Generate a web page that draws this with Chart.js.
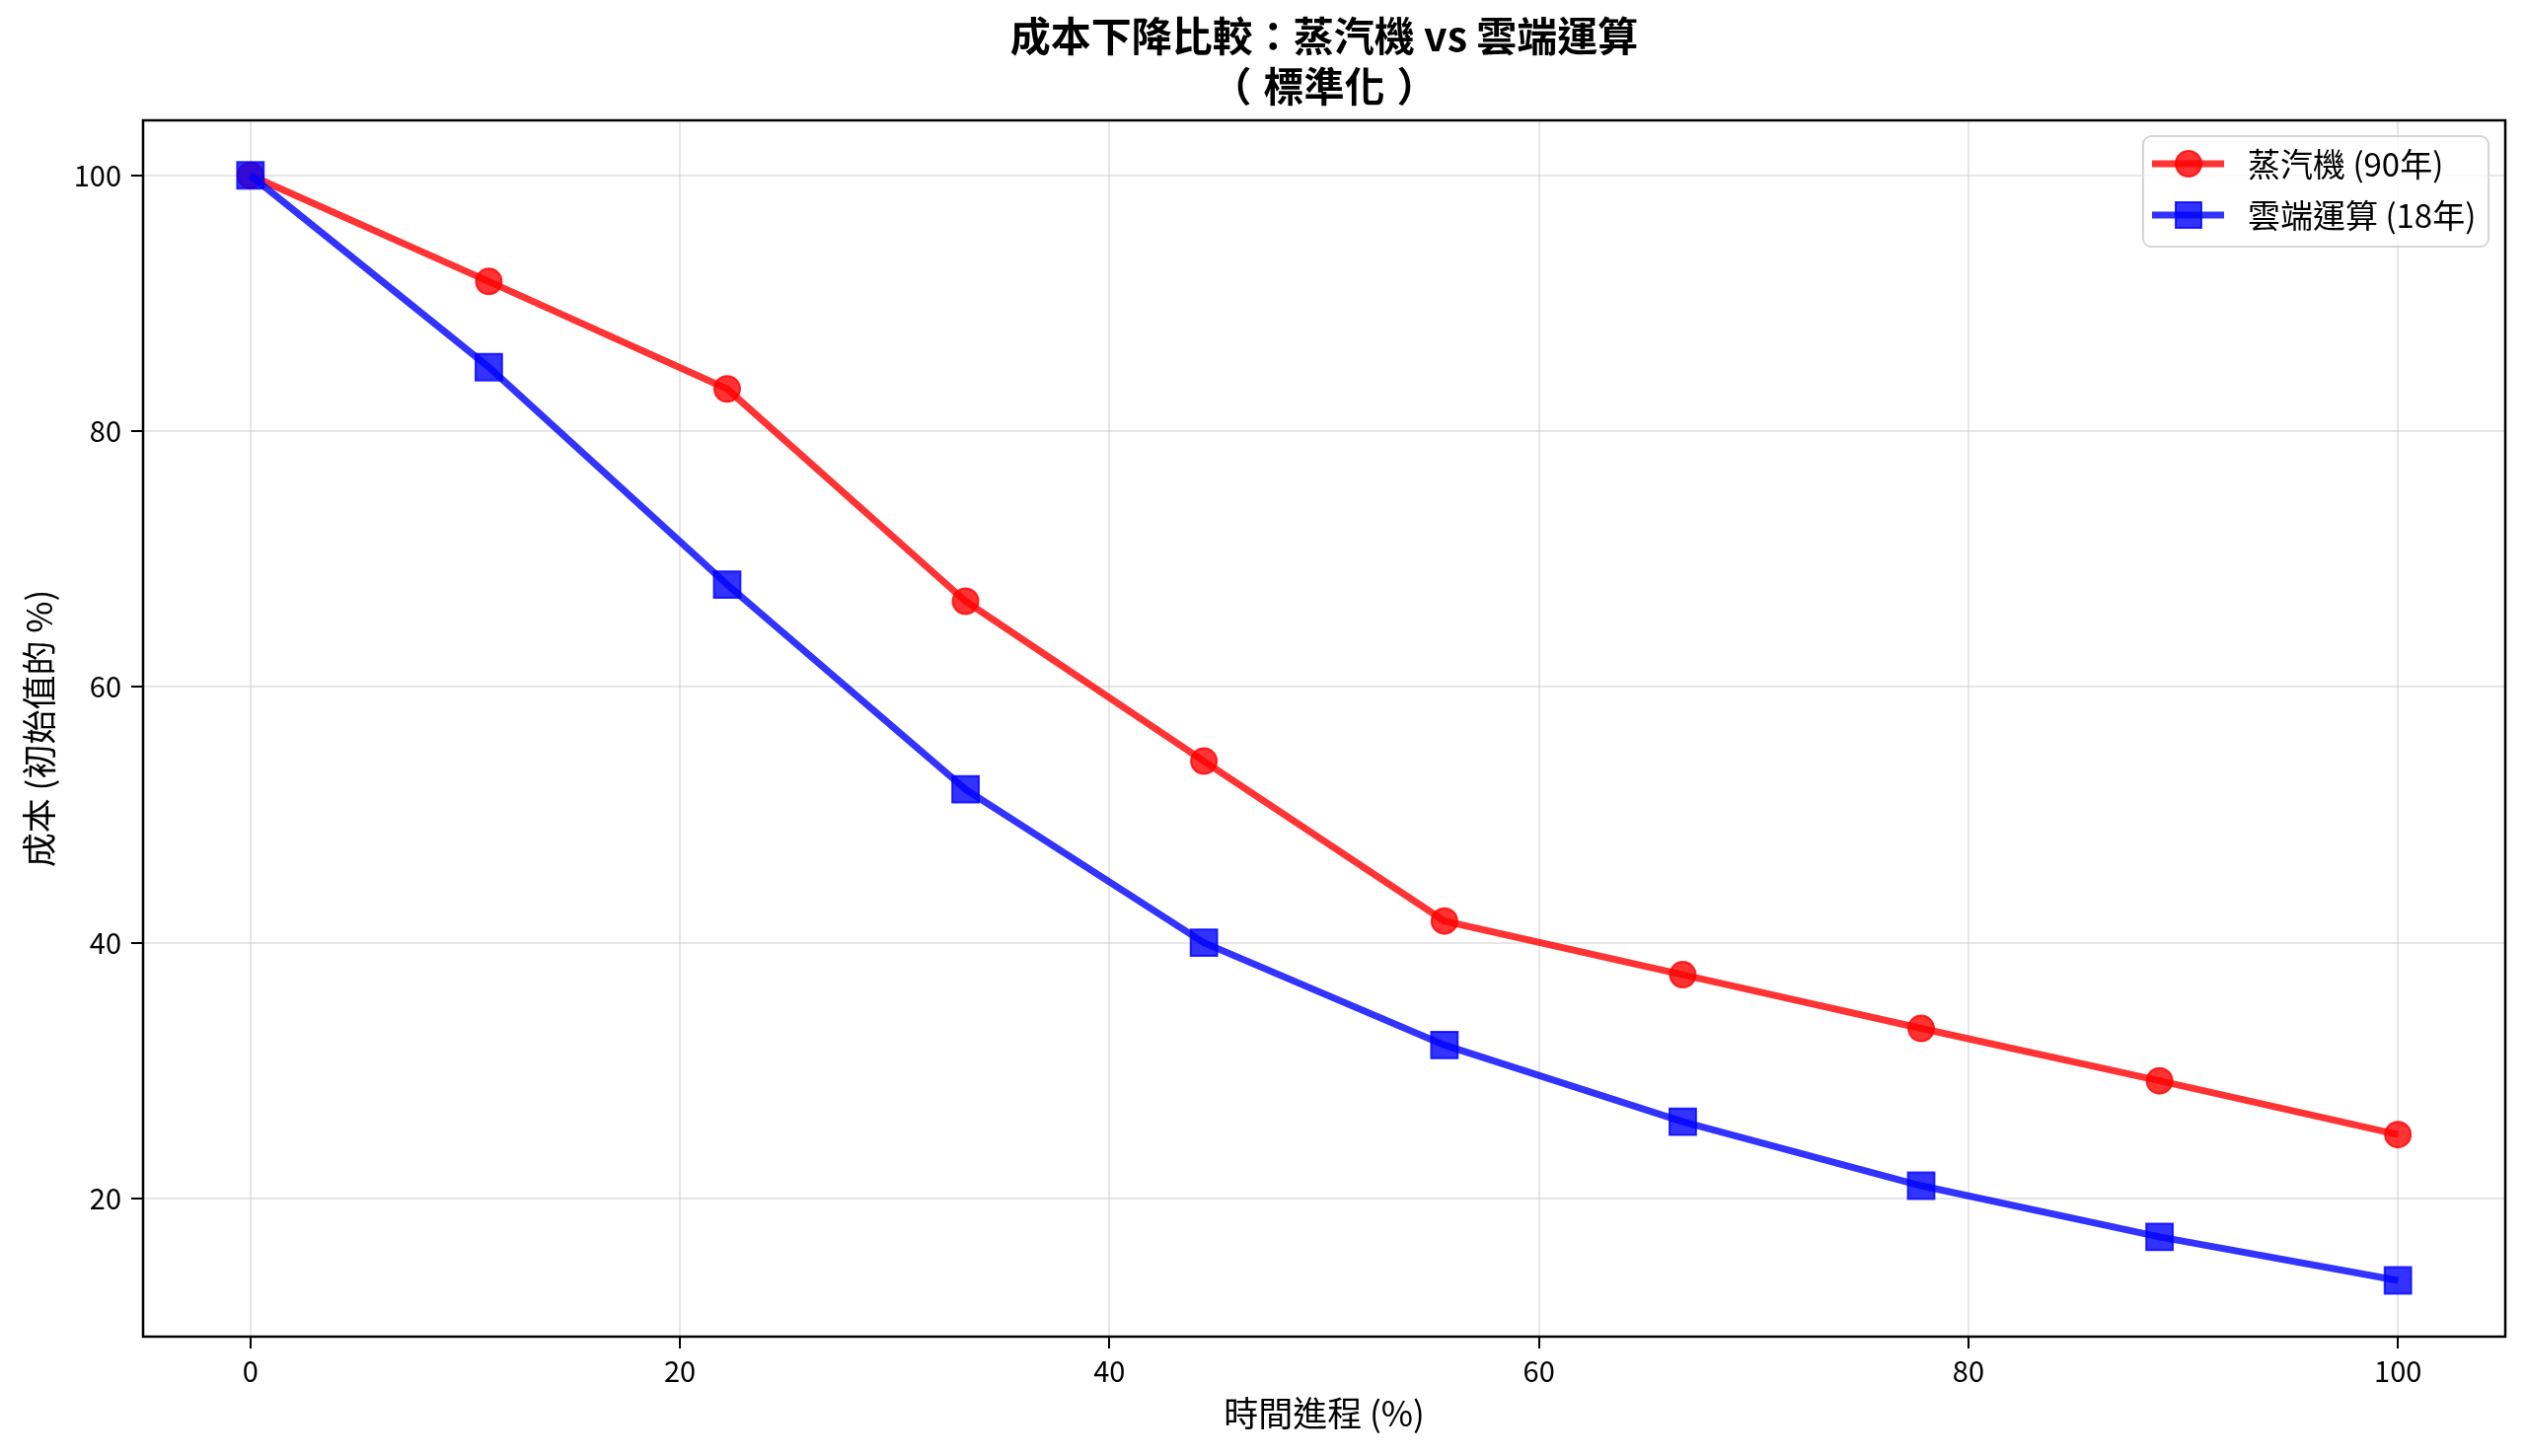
<!DOCTYPE html>
<html>
<head>
<meta charset="utf-8">
<script src="https://cdn.jsdelivr.net/npm/chart.js@4.4.1/dist/chart.umd.min.js"></script>
<style>
  html, body { margin: 0; padding: 0; background: #fff; }
  #wrap { width: 2560px; height: 1476px; }
</style>
</head>
<body>
<div id="wrap"><canvas id="chart" width="2560" height="1476"></canvas></div>
<script>
    "use strict";

    // data
    var progress = [0, 11.1, 22.2, 33.3, 44.4, 55.6, 66.7, 77.8, 88.9, 100];
    var steamCost = [100, 91.7, 83.3, 66.7, 54.2, 41.7, 37.5, 33.3, 29.2, 25];
    var cloudCost = [100, 85, 68, 52, 40, 32, 26, 21, 17, 13.6];
    var xTicks = [0, 20, 40, 60, 80, 100];
    var yTicks = [20, 40, 60, 80, 100];

    var titleLine1 = '成本下降比較：蒸汽機 vs 雲端運算';
    var titleLine2 = ['（', '標準化', '）'];
    var steamLabel = '蒸汽機 (90年)';
    var cloudLabel = '雲端運算 (18年)';

    var FONT = "'Noto Sans CJK TC', 'Noto Sans', sans-serif";
    var RED = 'rgba(255, 0, 0, 0.8)';
    var BLUE = 'rgba(0, 0, 255, 0.8)';

    function toPoints(ys) {
        return progress.map(function (x, i) { return {x: x, y: ys[i]}; });
    }

    // title, frame and legend drawn the matplotlib way
    var decor = {
        id: 'decor',
        afterDraw: function (chart) {
            var ctx = chart.ctx;
            var a = chart.chartArea;
            ctx.save();

            // frame
            ctx.strokeStyle = '#000';
            ctx.lineWidth = 2.5;
            ctx.strokeRect(a.left, a.top, a.right - a.left, a.bottom - a.top);

            // title (brackets placed apart so they keep their full-width gap)
            ctx.fillStyle = '#000';
            ctx.font = 'bold 41px ' + FONT;
            ctx.textBaseline = 'middle';
            var cx = (a.left + a.right) / 2;
            ctx.textAlign = 'center';
            ctx.fillText(titleLine1, cx, 36);
            var w = ctx.measureText(titleLine2[1]).width;
            ctx.fillText(titleLine2[1], cx, 87);
            ctx.textAlign = 'right';
            ctx.fillText(titleLine2[0], cx - w / 2 - 12, 87);
            ctx.textAlign = 'left';
            ctx.fillText(titleLine2[2], cx + w / 2 + 12, 87);

            // legend box
            var bx = 2172, by = 138, bw = 350, bh = 112, r = 8;
            ctx.beginPath();
            ctx.moveTo(bx + r, by);
            ctx.arcTo(bx + bw, by, bx + bw, by + bh, r);
            ctx.arcTo(bx + bw, by + bh, bx, by + bh, r);
            ctx.arcTo(bx, by + bh, bx, by, r);
            ctx.arcTo(bx, by, bx + bw, by, r);
            ctx.closePath();
            ctx.fillStyle = 'rgba(255,255,255,0.8)';
            ctx.fill();
            ctx.strokeStyle = '#d6d6d6';
            ctx.lineWidth = 2;
            ctx.stroke();

            var rows = [
                {label: steamLabel, color: RED, shape: 'circle', y: 166},
                {label: cloudLabel, color: BLUE, shape: 'rect', y: 218}
            ];
            rows.forEach(function (row) {
                ctx.strokeStyle = row.color;
                ctx.lineWidth = 7;
                ctx.beginPath();
                ctx.moveTo(2181, row.y);
                ctx.lineTo(2254, row.y);
                ctx.stroke();
                ctx.fillStyle = row.color;
                ctx.lineWidth = 2;
                ctx.beginPath();
                if (row.shape === 'circle') {
                    ctx.arc(2218, row.y, 13, 0, Math.PI * 2);
                } else {
                    ctx.rect(2218 - 13, row.y - 13, 26, 26);
                }
                ctx.fill();
                ctx.stroke();
                ctx.fillStyle = '#000';
                ctx.font = '33px ' + FONT;
                ctx.textAlign = 'left';
                ctx.textBaseline = 'middle';
                ctx.fillText(row.label, 2278, row.y);
            });

            ctx.restore();
        }
    };

    var gridOpts = {
        color: 'rgba(176, 176, 176, 0.3)',
        lineWidth: 2,
        tickLength: 12,
        tickColor: '#000',
        tickWidth: 2
    };

    new Chart(document.getElementById('chart'), {
        type: 'line',
        data: {
            datasets: [{
                label: steamLabel,
                data: toPoints(steamCost),
                borderColor: RED,
                backgroundColor: RED,
                borderWidth: 7,
                pointStyle: 'circle',
                pointRadius: 13,
                pointBorderWidth: 2,
                pointBorderColor: RED,
                pointBackgroundColor: RED,
                tension: 0,
                order: 1
            }, {
                label: cloudLabel,
                data: toPoints(cloudCost),
                borderColor: BLUE,
                backgroundColor: BLUE,
                borderWidth: 7,
                pointStyle: 'rect',
                pointRadius: 19,
                pointBorderWidth: 2,
                pointBorderColor: BLUE,
                pointBackgroundColor: BLUE,
                tension: 0,
                order: 0
            }]
        },
        options: {
            responsive: false,
            animation: false,
            events: [],
            layout: {padding: {top: 122, right: 21, left: 0, bottom: 0}},
            plugins: {
                legend: {display: false},
                title: {display: false},
                tooltip: {enabled: false}
            },
            scales: {
                x: {
                    type: 'linear',
                    min: -5,
                    max: 105,
                    grid: gridOpts,
                    border: {display: false},
                    afterBuildTicks: function (scale) {
                        scale.ticks = xTicks.map(function (v) { return {value: v}; });
                    },
                    afterFit: function (scale) { scale.height = 121; },
                    ticks: {
                        color: '#000',
                        padding: 6,
                        maxRotation: 0,
                        font: {family: FONT, size: 29}
                    },
                    title: {
                        display: true,
                        text: '時間進程 (%)',
                        color: '#000',
                        padding: {top: 0, bottom: 22},
                        font: {family: FONT, size: 35}
                    }
                },
                y: {
                    type: 'linear',
                    min: 9.2,
                    max: 104.3,
                    grid: gridOpts,
                    border: {display: false},
                    afterBuildTicks: function (scale) {
                        scale.ticks = yTicks.map(function (v) { return {value: v}; });
                    },
                    afterFit: function (scale) { scale.width = 145; },
                    ticks: {
                        color: '#000',
                        padding: 10,
                        font: {family: FONT, size: 29}
                    },
                    title: {
                        display: true,
                        text: '成本 (初始值的 %)',
                        color: '#000',
                        padding: {top: 19, bottom: 0},
                        font: {family: FONT, size: 35}
                    }
                }
            }
        },
        plugins: [decor]
    });
</script>
</body>
</html>
